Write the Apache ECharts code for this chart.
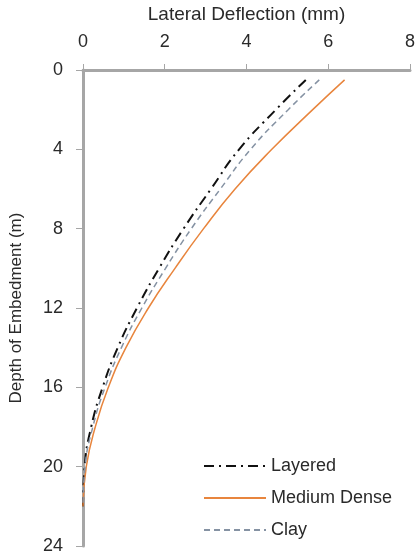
<!DOCTYPE html>
<html>
<head>
<meta charset="utf-8">
<script src="https://cdn.jsdelivr.net/npm/echarts@6/dist/echarts.min.js"></script>
<style>
    html, body { margin: 0; padding: 0; background: #fff; }
    #chart { width: 418px; height: 556px; }
</style>
</head>
<body>
<div id="chart"></div>
<script>
    // depth below ground (m)
    var depth = [0.5, 2, 4, 6, 8, 10, 12, 14, 16, 18, 20, 22];
    // lateral deflection (mm)
    var layered     = [5.45, 4.72, 3.82, 3.13, 2.46, 1.86, 1.32, 0.85, 0.48, 0.20, 0.04, 0];
    var mediumDense = [6.40, 5.62, 4.62, 3.72, 2.95, 2.25, 1.60, 1.05, 0.62, 0.30, 0.08, 0];
    var clay        = [5.78, 5.02, 4.10, 3.36, 2.65, 2.02, 1.44, 0.94, 0.54, 0.24, 0.05, 0];

    function pairs(vals) {
        return vals.map(function (v, i) { return [v, depth[i]]; });
    }

    var axisGrey = '#a6a6a6';
    var font = 'Liberation Sans';
    var txt = '#2a2a2a';

    var myChart = echarts.init(document.getElementById('chart'));
    var option = {
        backgroundColor: '#fff',
        textStyle: { fontFamily: font },
        grid: { left: 83, top: 70, right: 2, bottom: 10 },
        legend: {
            orient: 'vertical',
            left: 198,
            top: 452,
            itemWidth: 62,
            itemHeight: 14,
            itemGap: 14,
            itemStyle: { opacity: 0 },
            textStyle: { fontFamily: font, fontSize: 18, color: txt },
            data: ['Layered', 'Medium Dense', 'Clay']
        },
        xAxis: {
            type: 'value',
            position: 'top',
            min: 0,
            max: 8,
            interval: 2,
            name: 'Lateral Deflection (mm)',
            nameLocation: 'middle',
            nameGap: 46,
            nameTextStyle: { fontFamily: font, fontSize: 19, color: txt },
            axisLine: { show: true, lineStyle: { color: axisGrey, width: 3 } },
            axisTick: { show: true, length: 6, lineStyle: { color: axisGrey, width: 1 } },
            axisLabel: { fontFamily: font, fontSize: 18, color: txt, margin: 19 },
            splitLine: { show: false }
        },
        yAxis: {
            type: 'value',
            inverse: true,
            min: 0,
            max: 24,
            interval: 4,
            name: 'Depth of Embedment (m)',
            nameLocation: 'middle',
            nameGap: 58,
            nameTextStyle: { fontFamily: font, fontSize: 17, color: txt },
            axisLine: { show: true, lineStyle: { color: axisGrey, width: 3 } },
            axisTick: { show: true, length: 7, lineStyle: { color: axisGrey, width: 1 } },
            axisLabel: { fontFamily: font, fontSize: 18, color: txt, margin: 20 },
            splitLine: { show: false }
        },
        series: [
            {
                name: 'Layered',
                type: 'line',
                data: pairs(layered),
                smooth: true,
                symbol: 'none',
                lineStyle: { color: '#111', width: 2, type: [10, 5, 2, 5] },
                itemStyle: { color: '#111' }
            },
            {
                name: 'Medium Dense',
                type: 'line',
                data: pairs(mediumDense),
                smooth: true,
                symbol: 'none',
                lineStyle: { color: '#e8853d', width: 1.5 },
                itemStyle: { color: '#e8853d' }
            },
            {
                name: 'Clay',
                type: 'line',
                data: pairs(clay),
                smooth: true,
                symbol: 'none',
                lineStyle: { color: '#8592a3', width: 1.5, type: [6, 4] },
                itemStyle: { color: '#8592a3' }
            }
        ]
    };
    myChart.setOption(option);
</script>
</body>
</html>
